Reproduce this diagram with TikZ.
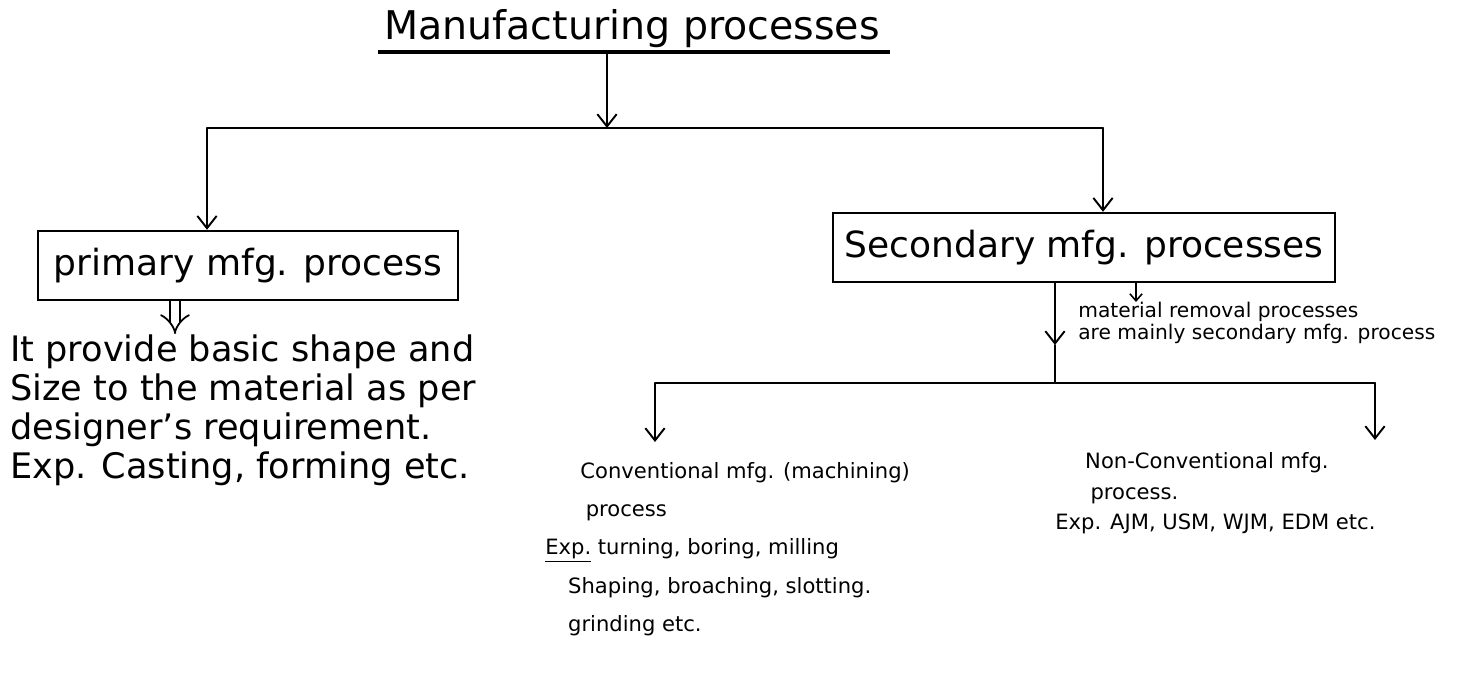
\documentclass[tikz,border=0pt]{standalone}
\usepackage{fontspec}
\setmainfont{DejaVu Sans}
\usetikzlibrary{arrows.meta}
\begin{document}
\begin{tikzpicture}[x=0.02cm,y=-0.02cm,
  conn/.style={line width=1.1pt, line cap=round},
  arr/.style={conn,-{Straight Barb[length=7pt,width=11pt,line width=1.1pt]}},
  smallarr/.style={line width=0.9pt,-{Straight Barb[length=4pt,width=7pt,line width=0.9pt]}},
  hollowarr/.style={double, double distance=5pt, line width=1pt, -{Implies[length=6pt]}},
  box/.style={draw, line width=1.4pt, inner sep=0pt},
  txt/.style={inner sep=0pt, align=left, anchor=north west}
]
\useasboundingbox (0,0) rectangle (1461,679);

% title
\node[inner sep=0pt, anchor=base, font={\fontsize{22.5}{24}\selectfont}] (t) at (632,40) {Manufacturing processes};
\coordinate (ul1) at (378,52);
\coordinate (ul2) at (890,52);
\draw[line width=2pt] (ul1) -- (ul2);

% first level junction
\coordinate (jt) at (607,52);
\coordinate (j1) at (607,128);
\coordinate (jl) at (207,128);
\coordinate (jr) at (1103,128);
\draw[arr] (jt) -- (j1);
\draw[conn] (jl) -- (jr);

% boxes
\node[box, minimum width=8.4cm, minimum height=1.38cm, font={\fontsize{20.5}{22}\selectfont}] (pri) at (248,265.5)
  {primary mfg. process};
\node[box, minimum width=10.04cm, minimum height=1.38cm, font={\fontsize{20.5}{22}\selectfont}] (sec) at (1084,247.5)
  {Secondary mfg. processes};

\draw[arr] (jl) -- (jl |- pri.north);
\draw[arr] (jr) -- (jr |- sec.north);

% primary description
\node[txt, font={\fontsize{20}{22.3}\selectfont}] (ptext) at (10,334)
  {It provide basic shape and\\
   Size to the material as per\\
   designer's requirement.\\
   Exp. Casting, forming etc.};
\coordinate (hx) at (175,0);
\draw[hollowarr] (pri.south -| hx) -- (ptext.north -| hx);

% secondary annotation
\node[txt, font={\fontsize{11.5}{12.3}\selectfont}] (ann) at (1078,302)
  {material removal processes\\
   are mainly secondary mfg. process};
\coordinate (ax) at (1136,0);
\draw[smallarr] (sec.south -| ax) -- (ann.north -| ax);

% secondary to second level
\coordinate (sx) at (1055,0);
\coordinate (m2) at (1055,345);
\coordinate (j2) at (1055,383);
\coordinate (jl2) at (655,383);
\coordinate (jr2) at (1375,383);
\draw[arr] (sec.south -| sx) -- (m2);
\draw[conn] (m2) -- (j2);
\draw[conn] (jl2) -- (jr2);

% conventional
\node[txt, font={\fontsize{12}{21.8}\selectfont}] (conv) at (545,462)
  {\hspace*{20pt}Conventional mfg. (machining)\\
   \hspace*{23pt}process\\
   \underline{Exp.} turning, boring, milling\\
   \hspace*{13pt}Shaping, broaching, slotting.\\
   \hspace*{13pt}grinding etc.};
\coordinate (ca) at (655,442);
\draw[arr] (jl2) -- (ca);

% non-conventional
\node[txt, font={\fontsize{12}{17.5}\selectfont}] (nconv) at (1055,452)
  {\hspace*{17pt}Non-Conventional mfg.\\
   \hspace*{20pt}process.\\
   Exp. AJM, USM, WJM, EDM etc.};
\coordinate (na) at (1375,440);
\draw[arr] (jr2) -- (na);
\end{tikzpicture}
\end{document}
